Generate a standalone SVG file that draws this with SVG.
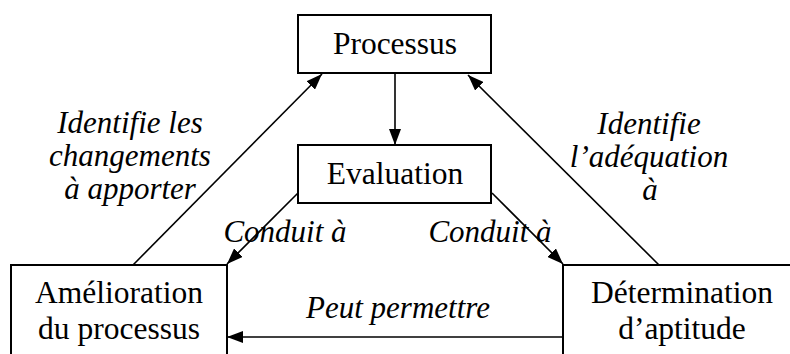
<svg xmlns="http://www.w3.org/2000/svg" width="790" height="354" viewBox="0 0 790 354">
<defs>
<marker id="ah" viewBox="0 0 16 12" refX="16" refY="6" markerWidth="16" markerHeight="12" markerUnits="userSpaceOnUse" orient="auto">
<path d="M0,0 L16,6 L0,12 z" fill="#000"/>
</marker>
</defs>
<rect width="790" height="354" fill="#fff"/>
<g id="connectors" stroke="#000" stroke-width="1.6" fill="none" marker-end="url(#ah)">
<line x1="395" y1="73" x2="395" y2="145"/>
<line x1="133" y1="265" x2="322" y2="74"/>
<line x1="659" y1="265" x2="468" y2="75"/>
<line x1="298" y1="193" x2="227" y2="264"/>
<line x1="492" y1="193" x2="563" y2="264"/>
<line x1="563" y1="337" x2="227" y2="337"/>
</g>
<g font-family="'Times New Roman', 'Liberation Serif', Tinos, 'DejaVu Serif', serif" fill="#000" text-anchor="middle" font-size="31.5">
<g stroke-width="2">
<g id="processus">
<rect x="298" y="15" width="193" height="58" fill="#fff" stroke="#000"/>
<text x="395" y="54" font-family="'Times New Roman', 'Liberation Serif', serif">Processus</text>
</g>
<g id="evaluation">
<rect x="298" y="145" width="193" height="58" fill="#fff" stroke="#000"/>
<text x="395" y="184" font-family="'Times New Roman', 'Liberation Serif', serif">Evaluation</text>
</g>
<g id="amelioration">
<rect x="11" y="265" width="216" height="100" fill="#fff" stroke="#000"/>
<text x="119" y="303" font-family="'Times New Roman', 'Liberation Serif', serif">Amélioration</text>
<text x="119" y="339" font-family="'Times New Roman', 'Liberation Serif', serif">du processus</text>
</g>
<g id="determination">
<rect x="563" y="265" width="240" height="100" fill="#fff" stroke="#000"/>
<text x="682" y="303" font-family="'Times New Roman', 'Liberation Serif', serif">Détermination</text>
<text x="682" y="339" font-family="'Times New Roman', 'Liberation Serif', serif">d’aptitude</text>
</g>
</g>
<g id="labels" font-style="italic" font-size="31">
<text x="130" y="133" font-family="'Times New Roman', 'Liberation Serif', serif">Identifie les</text>
<text x="130" y="166" font-family="'Times New Roman', 'Liberation Serif', serif">changements</text>
<text x="130" y="199" font-family="'Times New Roman', 'Liberation Serif', serif">à apporter</text>
<text x="649" y="134" font-family="'Times New Roman', 'Liberation Serif', serif">Identifie</text>
<text x="649" y="167" font-family="'Times New Roman', 'Liberation Serif', serif">l’adéquation</text>
<text x="650" y="200" font-family="'Times New Roman', 'Liberation Serif', serif">à</text>
<text x="285" y="242" font-family="'Times New Roman', 'Liberation Serif', serif">Conduit à</text>
<text x="490" y="242" font-family="'Times New Roman', 'Liberation Serif', serif">Conduit à</text>
<text x="398" y="318" font-family="'Times New Roman', 'Liberation Serif', serif">Peut permettre</text>
</g>
</g>
</svg>
